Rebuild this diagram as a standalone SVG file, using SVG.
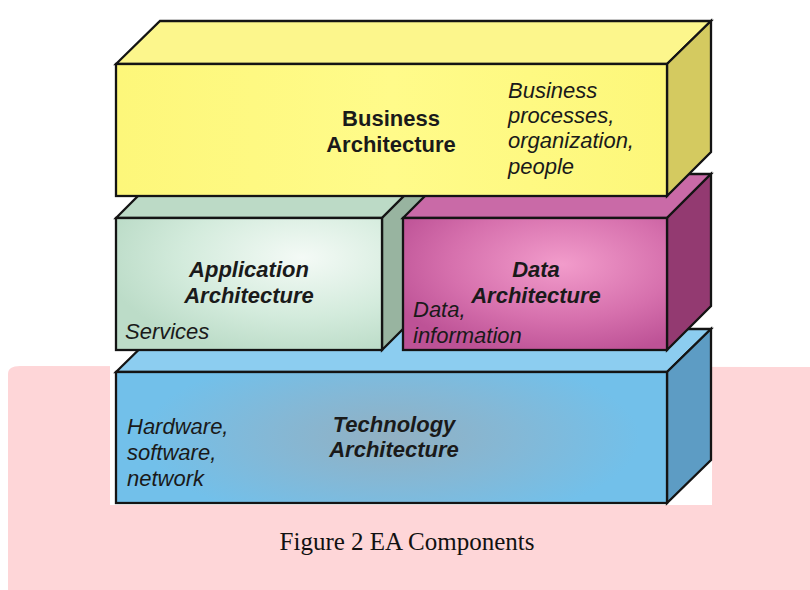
<svg xmlns="http://www.w3.org/2000/svg" width="810" height="590" viewBox="0 0 810 590">
<style>
.edge{stroke:#141414;stroke-width:2.3;stroke-linejoin:miter}
.t{font-family:"Liberation Sans",Arial,sans-serif;font-size:22px;fill:#1a1a1a}
.b{font-weight:bold}
.i{font-style:italic}
.cap{font-family:"Liberation Serif","Times New Roman",serif;font-size:25px;fill:#111}
</style>
<defs>
<linearGradient id="gBus" x1="0" y1="0" x2="1" y2="0">
<stop offset="0" stop-color="#fdf77a"/><stop offset="0.5" stop-color="#fffb8a"/><stop offset="1" stop-color="#fdf77a"/>
</linearGradient>
<radialGradient id="gApp" cx="0.7" cy="0.3" r="0.75">
<stop offset="0" stop-color="#f4faf6"/><stop offset="0.6" stop-color="#d3ebdc"/><stop offset="1" stop-color="#bcdcc8"/>
</radialGradient>
<radialGradient id="gData" cx="0.6" cy="0.35" r="0.7">
<stop offset="0" stop-color="#f29ccb"/><stop offset="0.6" stop-color="#d670ad"/><stop offset="1" stop-color="#bd5296"/>
</radialGradient>
<radialGradient id="gTech" cx="0.5" cy="0.5" r="0.5" gradientTransform="translate(0.5 0.5) scale(0.9 1.4) translate(-0.5 -0.5)">
<stop offset="0" stop-color="#92b0c2"/><stop offset="0.5" stop-color="#84b8d6"/><stop offset="1" stop-color="#72c0ea"/>
</radialGradient>
</defs>

<path d="M8,374 Q8,366 20,366 L810,367 L810,590 L8,590 Z" fill="#fed6d8"/>
<rect x="110" y="0" width="602" height="505" fill="#ffffff"/>

<g id="technology">
<polygon class="edge" points="116,372 160,329 711,329 667,372" fill="#8ccdf0"/>
<polygon class="edge" points="667,372 711,329 711,460 667,503" fill="#5d9cc4"/>
<rect class="edge" x="116" y="372" width="551" height="131" fill="url(#gTech)"/>
<text class="t b i" x="394" y="432" text-anchor="middle">Technology</text>
<text class="t b i" x="394" y="457" text-anchor="middle">Architecture</text>
<text class="t i" x="127" y="434">Hardware,</text>
<text class="t i" x="127" y="460">software,</text>
<text class="t i" x="127" y="486">network</text>
</g>

<g id="application">
<polygon class="edge" points="116,218 160,174 426,174 382,218" fill="#bcdac6"/>
<polygon class="edge" points="382,218 426,174 426,306 382,350" fill="#98b4a0"/>
<rect class="edge" x="116" y="218" width="266" height="132" fill="url(#gApp)"/>
<text class="t b i" x="249" y="277" text-anchor="middle">Application</text>
<text class="t b i" x="249" y="303" text-anchor="middle">Architecture</text>
<text class="t i" x="125" y="339">Services</text>
</g>

<g id="data">
<polygon class="edge" points="403,218 447,174 711,174 667,218" fill="#c96aa7"/>
<polygon class="edge" points="667,218 711,174 711,306 667,350" fill="#933a71"/>
<rect class="edge" x="403" y="218" width="264" height="132" fill="url(#gData)"/>
<text class="t b i" x="536" y="277" text-anchor="middle">Data</text>
<text class="t b i" x="536" y="303" text-anchor="middle">Architecture</text>
<text class="t i" x="413" y="317">Data,</text>
<text class="t i" x="413" y="343">information</text>
</g>

<g id="business">
<polygon class="edge" points="116,64 160,21 711,21 667,64" fill="#fcf68c"/>
<polygon class="edge" points="667,64 711,21 711,152 667,196" fill="#d4ca60"/>
<rect class="edge" x="116" y="64" width="551" height="132" fill="url(#gBus)"/>
<text class="t b" x="391" y="126" text-anchor="middle">Business</text>
<text class="t b" x="391" y="152" text-anchor="middle">Architecture</text>
<text class="t i" x="508" y="98">Business</text>
<text class="t i" x="508" y="123">processes,</text>
<text class="t i" x="508" y="148">organization,</text>
<text class="t i" x="508" y="174">people</text>
</g>

<g id="connectors"/>

<text class="cap" x="407" y="550" text-anchor="middle">Figure 2 EA Components</text>
</svg>
